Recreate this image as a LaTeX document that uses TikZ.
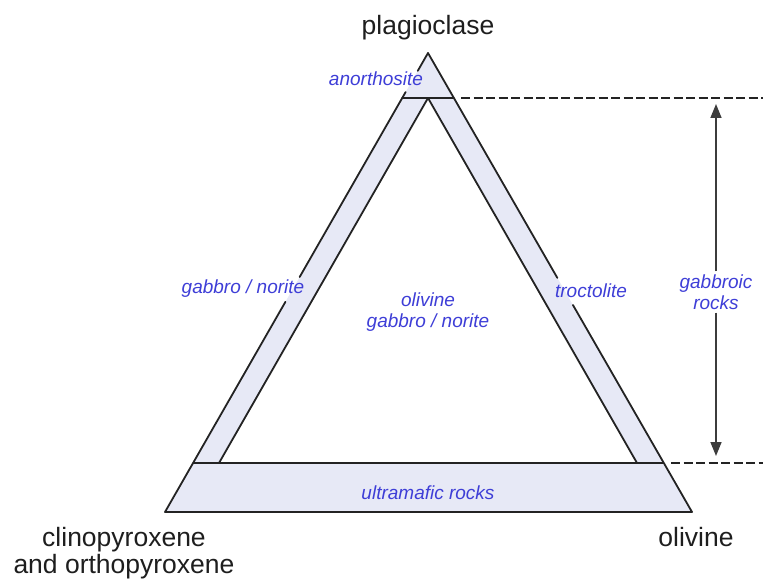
\documentclass[tikz,border=0pt]{standalone}
\usepackage{fontspec}
\setmainfont{Liberation Sans}
\usetikzlibrary{arrows.meta,calc}
\definecolor{band}{RGB}{231,233,246}
\definecolor{lbl}{RGB}{62,62,215}
\definecolor{edge}{RGB}{35,35,35}
\definecolor{arrowc}{RGB}{60,60,60}
\begin{document}
\begin{tikzpicture}[x=1pt,y=-1pt,
  blk/.style={font=\fontsize{26.5}{29}\selectfont, text={rgb,255:red,30;green,30;blue,30}, inner sep=0pt},
  rock/.style={font=\fontsize{19}{21}\selectfont\itshape, text=lbl, inner sep=1pt, align=center},
  edgeline/.style={draw=edge, line width=1.8pt, line join=round, line cap=round},
  baseline2/.style={draw=edge, line width=2.5pt},
  dashline/.style={draw=edge, line width=2.2pt, dash pattern=on 9pt off 3.5pt},
  dimarrow/.style={draw=arrowc, line width=1.6pt, -{Triangle[length=14pt,width=11pt]}}]
\useasboundingbox (0,0) rectangle (763,580);
% corners
\coordinate (A) at (428,53);
\coordinate (BL) at (165,512);
\coordinate (BR) at (692,512);
\coordinate (a) at (428,98);
\coordinate (bl) at (219,463);
\coordinate (br) at (637,463);
\coordinate (tl) at (402.2,98);
\coordinate (tr) at (453.8,98);
\coordinate (ml) at (193,463);
\coordinate (mr) at (663,463);
% fills
\fill[band] (A) -- (BL) -- (BR) -- cycle;
\fill[white] (a) -- (bl) -- (br) -- cycle;
% outer triangle (broken where labels sit)
\draw[edgeline] (A) -- ($(A)!0.039!(BL)$);
\draw[edgeline] ($(A)!0.085!(BL)$) -- ($(A)!0.488!(BL)$);
\draw[edgeline] ($(A)!0.542!(BL)$) -- (BL) -- (BR) -- ($(A)!0.549!(BR)$);
\draw[edgeline] ($(A)!0.490!(BR)$) -- (A);
% inner triangle sides
\draw[edgeline] (bl) -- (a) -- (br);
% horizontal boundaries
\draw[edgeline] (tl) -- (tr);
\draw[baseline2] (ml) -- (mr);
% dashed extensions
\coordinate (td0) at (461,98);
\coordinate (td1) at (763,98);
\coordinate (bd0) at (671,463);
\coordinate (bd1) at (763,463);
\draw[dashline] (td0) -- (td1);
\draw[dashline] (bd0) -- (bd1);
% dimension arrow
\coordinate (up) at (716,104);
\coordinate (dn) at (716,456);
\node[rock, inner sep=3pt] (gr) at (716,292) {gabbroic\\rocks};
\draw[dimarrow] (gr.north) -- (up);
\draw[dimarrow] (gr.south) -- (dn);
% rock labels
\node[rock] (an) at (376,79) {anorthosite};
\node[rock] (gn) at (243,289) {gabbro / norite};
\node[rock] (ogn) at (428,312) {olivine\\gabbro / norite};
\node[rock] (tr2) at (591,291) {troctolite};
\node[rock] (um) at (428,493) {ultramafic rocks};
% corner labels
\node[blk, anchor=base] (pl) at (428,35) {plagioclase};
\node[blk, anchor=base] (cp) at (124,546) {clinopyroxene};
\node[blk, anchor=base] (op) at (124,573) {and orthopyroxene};
\node[blk, anchor=base] (ol) at (696,546) {olivine};
\end{tikzpicture}
\end{document}
